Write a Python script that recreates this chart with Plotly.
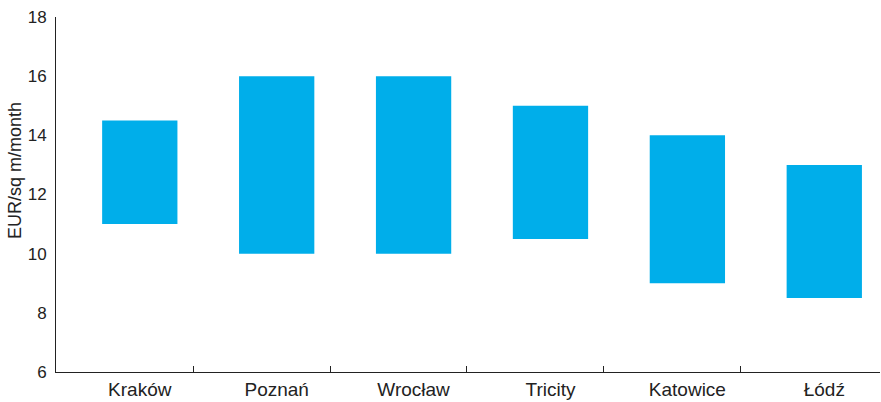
import plotly.graph_objects as go

cities = ["Kraków", "Poznań", "Wrocław", "Tricity", "Katowice", "Łódź"]
low = [11, 10, 10, 10.5, 9, 8.5]
high = [14.5, 16, 16, 15, 14, 13]
y_title = "EUR/sq m/month"

positions = list(range(len(cities)))
boundaries = [p + 0.39 for p in positions[:-1]]
heights = [h - l for h, l in zip(high, low)]

BAR = "#00AEEA"
FONT = "Liberation Sans, Arial, Helvetica, sans-serif"
TXT = "#222222"

fig = go.Figure()
fig.add_trace(go.Bar(
    x=positions, y=heights, base=low, width=0.55,
    marker=dict(color=BAR, line=dict(width=0)),
    hoverinfo="skip", showlegend=False,
))
# invisible trace to attach the boundary-tick axis
fig.add_trace(go.Scatter(x=[None], y=[None], xaxis="x2", yaxis="y",
                         mode="markers", showlegend=False, hoverinfo="skip"))

xr = [-0.612, 5.407]
fig.update_layout(
    width=881, height=402,
    margin=dict(l=56, r=1, t=17, b=30, autoexpand=False),
    paper_bgcolor="white", plot_bgcolor="white",
    font=dict(family=FONT, size=17, color=TXT),
    xaxis=dict(
        range=xr, tickmode="array", tickvals=positions, ticktext=cities,
        ticks="", showgrid=False, zeroline=False, automargin=False,
        showline=True, linecolor=TXT, linewidth=1,
        tickfont=dict(size=19, color=TXT),
        ticklabelstandoff=0,
    ),
    xaxis2=dict(
        range=xr, overlaying="x", anchor="y", side="bottom", automargin=False,
        tickmode="array", tickvals=boundaries, showticklabels=False,
        ticks="inside", ticklen=6, tickcolor=TXT, tickwidth=1,
        showgrid=False, zeroline=False, showline=False,
    ),
    yaxis=dict(
        range=[6, 18], dtick=2, tick0=6, ticks="", automargin=False,
        showgrid=False, zeroline=False,
        showline=True, linecolor=TXT, linewidth=1,
        tickfont=dict(size=17, color=TXT),
        ticklabelstandoff=5,
    ),
    annotations=[dict(
        text=y_title, textangle=-90, showarrow=False,
        xref="paper", yref="paper", x=-0.0498, y=0.569,
        xanchor="center", yanchor="middle",
        font=dict(size=18, color=TXT, family=FONT),
    )],
)

fig.write_html(
    "out.html",
    config={"displayModeBar": False},
    post_script="document.body.style.margin='0';document.body.style.overflow='hidden';",
)
